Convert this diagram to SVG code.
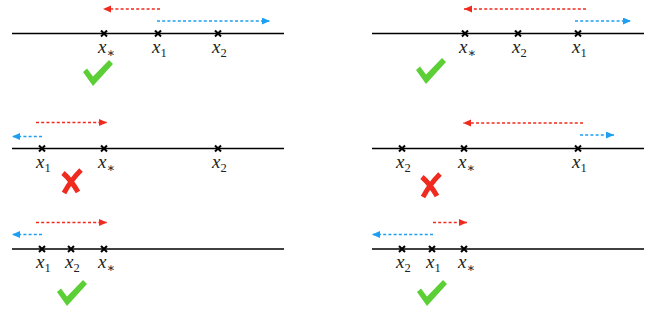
<svg xmlns="http://www.w3.org/2000/svg" width="654" height="315" viewBox="0 0 654 315">
<style>
.axis{stroke:#000;stroke-width:1.7;fill:none}
.pt{stroke:#000;stroke-width:2;fill:none}
.lbl{font-family:"Liberation Serif","DejaVu Serif",serif;font-style:italic;font-size:19px;fill:#222}
.sub{font-style:normal;font-size:12.5px}
.red{stroke:#ef2a1e;stroke-width:1.6;stroke-dasharray:3 2.2;fill:none;marker-end:url(#hr)}
.blue{stroke:#1d9ff2;stroke-width:1.6;stroke-dasharray:3 2.2;fill:none;marker-end:url(#hb)}
.ok{fill:#5ccf37}
.no{stroke:#ef2a1e;stroke-width:5;fill:none;stroke-linecap:butt}
</style>
<defs>
<marker id="hr" markerUnits="userSpaceOnUse" markerWidth="9" markerHeight="8" refX="8" refY="3.5" orient="auto"><path d="M0,0 L8,3.5 L0,7 z" fill="#ef2a1e"/></marker>
<marker id="hb" markerUnits="userSpaceOnUse" markerWidth="9" markerHeight="8" refX="8" refY="3.5" orient="auto"><path d="M0,0 L8,3.5 L0,7 z" fill="#1d9ff2"/></marker>
<path id="xm" class="pt" d="M-3,-3 L3,3 M3,-3 L-3,3"/>
<polygon id="chk" class="ok" points="0,12 4,8.5 10,16.5 26,0 30,4 10,26"/>
<path id="crs" class="no" d="M2,4 Q10,11 17,23 M20,1 Q10,11 3,24"/>
</defs>

<g id="panel1">
<line class="axis" x1="12" y1="33.5" x2="284" y2="33.5"/>
<g id="p1-xstar"><use href="#xm" x="104" y="33.5"/><text class="lbl" x="98" y="52.5">x<tspan class="sub" dy="4">∗</tspan></text></g>
<g id="p1-x1"><use href="#xm" x="158" y="33.5"/><text class="lbl" x="152" y="52.5">x<tspan class="sub" dy="4">1</tspan></text></g>
<g id="p1-x2"><use href="#xm" x="218" y="33.5"/><text class="lbl" x="212" y="52.5">x<tspan class="sub" dy="4">2</tspan></text></g>
<use id="p1-check" href="#chk" x="83" y="60"/>
</g>

<g id="panel2">
<line class="axis" x1="372" y1="33.5" x2="644" y2="33.5"/>
<g id="p2-xstar"><use href="#xm" x="465" y="33.5"/><text class="lbl" x="459" y="52.5">x<tspan class="sub" dy="4">∗</tspan></text></g>
<g id="p2-x2"><use href="#xm" x="518" y="33.5"/><text class="lbl" x="512" y="52.5">x<tspan class="sub" dy="4">2</tspan></text></g>
<g id="p2-x1"><use href="#xm" x="578" y="33.5"/><text class="lbl" x="572" y="52.5">x<tspan class="sub" dy="4">1</tspan></text></g>
<use id="p2-check" href="#chk" x="416" y="58"/>
</g>

<g id="panel3">
<line class="axis" x1="12" y1="148.5" x2="284" y2="148.5"/>
<g id="p3-x1"><use href="#xm" x="42" y="148.5"/><text class="lbl" x="36" y="167.5">x<tspan class="sub" dy="4">1</tspan></text></g>
<g id="p3-xstar"><use href="#xm" x="104" y="148.5"/><text class="lbl" x="98" y="167.5">x<tspan class="sub" dy="4">∗</tspan></text></g>
<g id="p3-x2"><use href="#xm" x="218" y="148.5"/><text class="lbl" x="212" y="167.5">x<tspan class="sub" dy="4">2</tspan></text></g>
<use id="p3-cross" href="#crs" x="61" y="169"/>
</g>

<g id="panel4">
<line class="axis" x1="372" y1="148.5" x2="644" y2="148.5"/>
<g id="p4-x2"><use href="#xm" x="402" y="148.5"/><text class="lbl" x="396" y="167.5">x<tspan class="sub" dy="4">2</tspan></text></g>
<g id="p4-xstar"><use href="#xm" x="464" y="148.5"/><text class="lbl" x="458" y="167.5">x<tspan class="sub" dy="4">∗</tspan></text></g>
<g id="p4-x1"><use href="#xm" x="578" y="148.5"/><text class="lbl" x="572" y="167.5">x<tspan class="sub" dy="4">1</tspan></text></g>
<use id="p4-cross" href="#crs" x="420" y="173"/>
</g>

<g id="panel5">
<line class="axis" x1="12" y1="249" x2="284" y2="249"/>
<g id="p5-x1"><use href="#xm" x="42" y="249"/><text class="lbl" x="36" y="268">x<tspan class="sub" dy="4">1</tspan></text></g>
<g id="p5-x2"><use href="#xm" x="71" y="249"/><text class="lbl" x="65" y="268">x<tspan class="sub" dy="4">2</tspan></text></g>
<g id="p5-xstar"><use href="#xm" x="104" y="249"/><text class="lbl" x="98" y="268">x<tspan class="sub" dy="4">∗</tspan></text></g>
<use id="p5-check" href="#chk" x="57" y="280"/>
</g>

<g id="panel6">
<line class="axis" x1="372" y1="249" x2="644" y2="249"/>
<g id="p6-x2"><use href="#xm" x="402" y="249"/><text class="lbl" x="396" y="268">x<tspan class="sub" dy="4">2</tspan></text></g>
<g id="p6-x1"><use href="#xm" x="432" y="249"/><text class="lbl" x="426" y="268">x<tspan class="sub" dy="4">1</tspan></text></g>
<g id="p6-xstar"><use href="#xm" x="464" y="249"/><text class="lbl" x="458" y="268">x<tspan class="sub" dy="4">∗</tspan></text></g>
<use id="p6-check" href="#chk" x="417" y="280"/>
</g>

<g id="connectors">
<path class="red" d="M160,9 H103"/>
<path class="blue" d="M157,21 H270"/>
<path class="red" d="M586,9 H464"/>
<path class="blue" d="M575,21 H631"/>
<path class="red" d="M36,122.5 H107"/>
<path class="blue" d="M42,136.5 H12"/>
<path class="red" d="M583,123 H463"/>
<path class="blue" d="M580,135 H614"/>
<path class="red" d="M36,222.5 H107"/>
<path class="blue" d="M42,234.5 H12"/>
<path class="red" d="M433,222.5 H467"/>
<path class="blue" d="M433,234.5 H372"/>
</g>
</svg>
